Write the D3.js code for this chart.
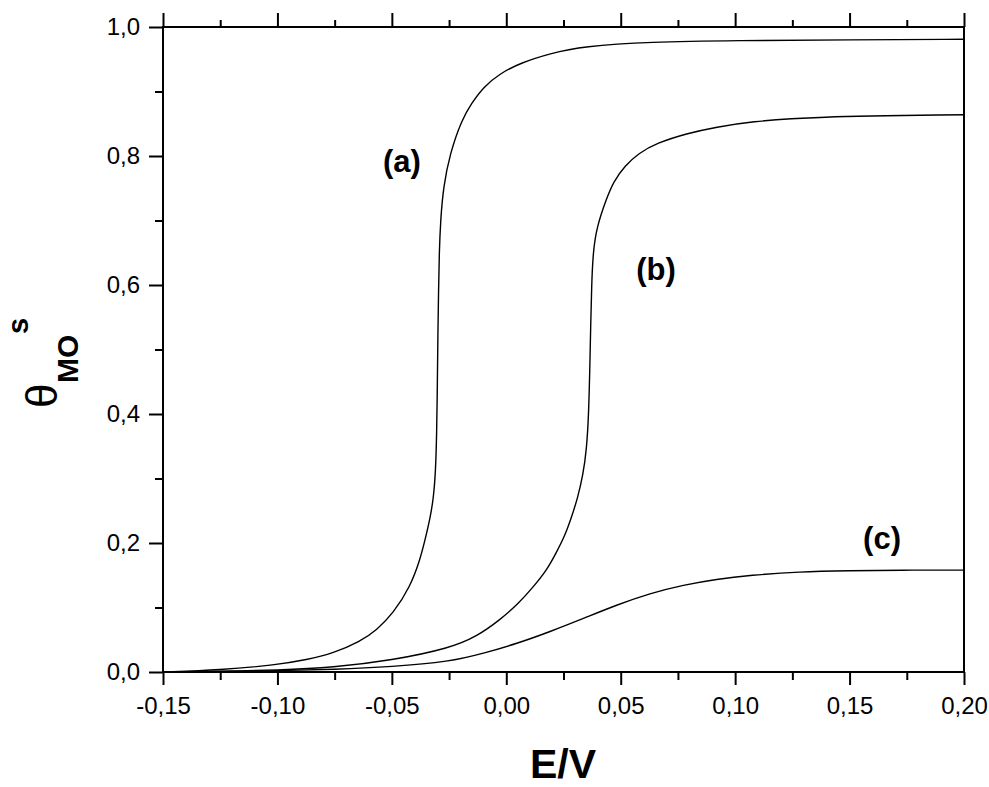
<!DOCTYPE html>
<html>
<head>
<meta charset="utf-8">
<script src="https://cdn.jsdelivr.net/npm/d3@7"></script>
<style>
  html, body { margin: 0; padding: 0; background: #fff; }
  svg { display: block; font-family: "Liberation Sans", Arial, sans-serif; }
</style>
</head>
<body>
<svg id="chart" width="989" height="787"></svg>
<script>
// ---- data ----
const xMajorTicks = [-0.15, -0.10, -0.05, 0.00, 0.05, 0.10, 0.15, 0.20];
const xMinorTicks = [-0.125, -0.075, -0.025, 0.025, 0.075, 0.125, 0.175];
const yMajorTicks = [0.0, 0.2, 0.4, 0.6, 0.8, 1.0];
const yMinorTicks = [0.1, 0.3, 0.5, 0.7, 0.9];

const eA = [-0.150, -0.1251, -0.1003, -0.0872, -0.0756, -0.0639, -0.0566, -0.0494, -0.0420, -0.0377, -0.0355, -0.0333, -0.0318, -0.0309, -0.0304, -0.0301, -0.0299, -0.0296, -0.0293, -0.0287, -0.0275, -0.0246, -0.0195, -0.0151, -0.0100, -0.0027, 0.0060, 0.0191, 0.0335, 0.0628, 0.100, 0.150, 0.200];
const thetaA = [0.000, 0.003, 0.011, 0.019, 0.029, 0.047, 0.065, 0.091, 0.132, 0.174, 0.205, 0.238, 0.270, 0.310, 0.370, 0.450, 0.520, 0.590, 0.650, 0.701, 0.752, 0.804, 0.856, 0.882, 0.907, 0.928, 0.944, 0.959, 0.970, 0.977, 0.979, 0.980, 0.981];

const eB = [-0.150, -0.125, -0.100, -0.0757, -0.050, -0.0246, -0.0129, -0.0027, 0.0053, 0.0118, 0.0177, 0.0217, 0.0257, 0.0285, 0.0312, 0.0335, 0.0351, 0.0360, 0.0365, 0.0369, 0.0373, 0.0379, 0.0395, 0.0439, 0.0468, 0.0519, 0.0577, 0.0657, 0.0788, 0.0919, 0.1065, 0.1327, 0.200];
const thetaB = [0.000, 0.001, 0.003, 0.007, 0.018, 0.037, 0.055, 0.081, 0.106, 0.132, 0.158, 0.184, 0.212, 0.240, 0.270, 0.305, 0.345, 0.400, 0.470, 0.540, 0.600, 0.650, 0.690, 0.735, 0.760, 0.785, 0.804, 0.820, 0.835, 0.845, 0.853, 0.861, 0.864];

const eC = [-0.150, -0.125, -0.100, -0.075, -0.050, -0.0246, -0.0100, 0.0046, 0.0191, 0.0337, 0.0482, 0.0628, 0.0774, 0.0919, 0.1065, 0.128, 0.150, 0.172, 0.200];
const thetaC = [0.000, 0.001, 0.002, 0.004, 0.008, 0.016, 0.029, 0.044, 0.0625, 0.083, 0.104, 0.122, 0.135, 0.144, 0.150, 0.1555, 0.157, 0.158, 0.158];

const curveLabels = [
  {text: "(a)", e: -0.0456, th: 0.775},
  {text: "(b)", e: 0.0654, th: 0.608},
  {text: "(c)", e: 0.1642, th: 0.191}
];

// ---- layout ----
const svg = d3.select("#chart");
const X0 = 163, X1 = 964, Y0 = 672, Y1 = 27;
const x = d3.scaleLinear().domain([-0.15, 0.20]).range([X0, X1]);
const y = d3.scaleLinear().domain([0, 1.0]).range([Y0, Y1]);

const loc = d3.formatLocale({decimal: ",", thousands: ".", grouping: [3], currency: ["", ""], minus: "-"});
const fx = loc.format(".2f");
const fy = loc.format(".1f");

function styleAxis(g, fontSize) {
  g.select(".domain").remove();
  g.selectAll(".tick line").attr("stroke", "#000").attr("stroke-width", 2);
  g.selectAll(".tick text").attr("fill", "#000").style("font-size", fontSize + "px")
    .style("font-family", '"Liberation Sans", Arial, sans-serif');
}

// bottom
svg.append("g").attr("transform", `translate(0,${Y0})`)
  .call(d3.axisBottom(x).tickValues(xMajorTicks).tickFormat(fx).tickSize(13).tickPadding(12).tickSizeOuter(0))
  .call(g => styleAxis(g, 24));
svg.append("g").attr("transform", `translate(0,${Y0})`)
  .call(d3.axisBottom(x).tickValues(xMinorTicks).tickFormat("").tickSize(8).tickSizeOuter(0))
  .call(g => styleAxis(g, 24));
// top
svg.append("g").attr("transform", `translate(0,${Y1})`)
  .call(d3.axisTop(x).tickValues(xMajorTicks).tickFormat("").tickSize(14).tickSizeOuter(0))
  .call(g => styleAxis(g, 24));
svg.append("g").attr("transform", `translate(0,${Y1})`)
  .call(d3.axisTop(x).tickValues(xMinorTicks).tickFormat("").tickSize(7).tickSizeOuter(0))
  .call(g => styleAxis(g, 24));
// left
svg.append("g").attr("transform", `translate(${X0},0)`)
  .call(d3.axisLeft(y).tickValues(yMajorTicks).tickFormat(fy).tickSize(14).tickPadding(9).tickSizeOuter(0))
  .call(g => styleAxis(g, 24));
svg.append("g").attr("transform", `translate(${X0},0)`)
  .call(d3.axisLeft(y).tickValues(yMinorTicks).tickFormat("").tickSize(8).tickSizeOuter(0))
  .call(g => styleAxis(g, 24));

// curves
const line = d3.line().x(d => x(d[0])).y(d => y(d[1])).curve(d3.curveBasis);
const series = [[eA, thetaA], [eB, thetaB], [eC, thetaC]];
series.forEach(([es, ts]) => {
  svg.append("path")
    .datum(es.map((e, i) => [e, ts[i]]))
    .attr("d", line)
    .attr("fill", "none")
    .attr("stroke", "#000")
    .attr("stroke-width", 1.4);
});

// frame
svg.append("rect").attr("x", X0).attr("y", Y1).attr("width", X1 - X0).attr("height", Y0 - Y1)
  .attr("fill", "none").attr("stroke", "#000").attr("stroke-width", 2);

// curve labels
curveLabels.forEach(l => {
  svg.append("text").attr("x", x(l.e)).attr("y", y(l.th))
    .attr("text-anchor", "middle")
    .style("font-size", "31px").style("font-weight", "bold")
    .text(l.text);
});

// x axis title
svg.append("text").attr("x", 563).attr("y", 778).attr("text-anchor", "middle")
  .style("font-size", "41px").style("font-weight", "bold").text("E/V");

// y axis title: theta_MO^s rotated
svg.append("text").attr("transform", "translate(57,408) rotate(-90)")
  .style("font-size", "44px").text("θ");
svg.append("text").attr("transform", "translate(78,383) rotate(-90)")
  .style("font-size", "30px").style("font-weight", "bold").text("MO");
svg.append("text").attr("transform", "translate(28,334) rotate(-90)")
  .style("font-size", "29px").style("font-weight", "bold").text("s");
</script>
</body>
</html>
